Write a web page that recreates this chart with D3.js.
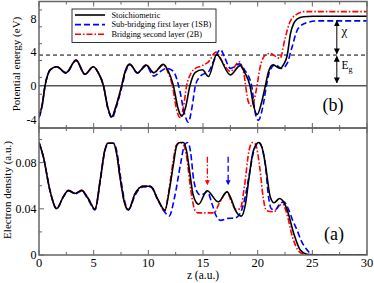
<!DOCTYPE html>
<html>
<head>
<meta charset="utf-8">
<script src="https://cdn.jsdelivr.net/npm/d3@7"></script>
<style>
  body { margin: 0; background: #fff; }
  text { font-family: "Liberation Serif", "DejaVu Serif", serif; }
</style>
</head>
<body>
<svg id="mySvg"></svg>
<script>
const width = 374;
const height = 283;

// series labels
const seriesNames = ["Stoichiometric", "Sub-bridging first layer (1SB)", "Bridging second layer (2B)"];

// potential energy (eV) vs z (a.u.)
const potStoich = [[0,-3.7],[0.3,-2.2],[0.55,0],[0.8,1.3],[1.0,1.86],[1.62,2.26],[2.47,1.55],[3.39,3.05],[4.2,1.39],[4.97,2.26],[5.4,1.6],[5.9,0],[6.3,-2.6],[6.65,-3.7],[7.0,-2.6],[7.56,0],[7.9,1.8],[8.3,2.58],[9.0,1.55],[9.8,2.46],[10.5,1.55],[11.37,2.54],[11.8,1.8],[12.3,0],[12.7,-2.6],[13.05,-3.6],[13.4,-2.6],[13.8,0],[14.3,1.6],[14.95,1.9],[15.5,1.1],[16.25,3.7],[17.5,1.3],[18.4,2.4],[18.8,1.6],[19.3,0],[19.6,-2.2],[19.95,-3.4],[20.35,-2.0],[20.7,0],[21.0,1.7],[21.4,2.5],[22.05,2.05],[22.4,2.6],[22.7,3.6],[23.0,6.2],[23.3,7.4],[23.6,7.9],[24.2,8.2],[25,8.25],[30,8.25]];
const pot1SB = [[0,-3.8],[0.3,-2.3],[0.55,0],[0.8,1.3],[1.0,1.86],[1.62,2.26],[2.47,1.5],[3.39,3.0],[4.2,1.35],[4.97,2.26],[5.4,1.6],[5.9,0],[6.3,-2.7],[6.7,-3.8],[7.05,-2.6],[7.6,0],[7.95,1.8],[8.35,2.5],[9.0,1.5],[9.8,2.4],[10.5,1.15],[11.1,1.7],[11.7,2.07],[12.1,1.9],[12.4,1.5],[12.9,-0.7],[13.25,-3.0],[13.66,-4.3],[14.0,-2.5],[14.3,0],[14.6,0.9],[14.9,1.3],[15.5,1.66],[16.0,3.0],[16.6,4.3],[17.0,3.3],[17.5,2.07],[18.35,2.6],[18.8,1.9],[19.45,0],[19.76,-3.1],[20.05,-4.07],[20.5,-2.3],[20.8,0],[21.13,1.86],[21.6,2.5],[22.2,2.07],[22.7,2.66],[23.1,4.4],[23.7,6.8],[24.5,7.5],[25.5,7.7],[30,7.7]];
const pot2B = [[0,-3.7],[0.3,-2.2],[0.55,0],[0.8,1.3],[1.0,1.86],[1.62,2.26],[2.47,1.55],[3.39,3.05],[4.2,1.39],[4.97,2.26],[5.4,1.6],[5.9,0],[6.3,-2.6],[6.65,-3.75],[7.0,-2.6],[7.56,0],[7.9,1.8],[8.3,2.55],[9.0,1.55],[9.8,2.46],[10.5,1.55],[11.37,2.5],[11.8,1.6],[12.2,0],[12.55,-2.6],[12.9,-3.75],[13.2,-2.6],[13.5,0],[13.9,1.5],[14.3,2.07],[14.75,2.3],[15.5,2.85],[16.2,4.0],[16.8,2.8],[17.5,1.7],[18.3,2.85],[18.7,1.66],[19.15,-1.9],[19.45,-2.4],[19.9,-0.3],[20.2,2.07],[20.7,3.65],[21.1,3.85],[22.05,3.25],[22.5,5.6],[22.96,7.6],[23.6,8.5],[24.3,8.8],[30,8.8]];

// electron density (a.u.) vs z (a.u.)
const denStoich = [[0,0.0974],[0.4,0.085],[1.0,0.056],[1.62,0.0403],[2.2,0.050],[2.7,0.056],[3.3,0.0533],[3.9,0.056],[4.5,0.049],[5.12,0.0397],[5.6,0.065],[6.0,0.09],[6.3,0.0968],[6.8,0.0968],[7.1,0.088],[7.4,0.068],[7.8,0.046],[8.17,0.0389],[8.78,0.053],[9.5,0.0595],[10.2,0.0595],[10.9,0.0475],[11.53,0.0389],[11.9,0.055],[12.3,0.079],[12.6,0.095],[12.9,0.0974],[13.2,0.0974],[13.5,0.09],[13.8,0.0706],[14.1,0.052],[14.6,0.044],[15.37,0.0556],[16.4,0.046],[17.2,0.0547],[17.6,0.048],[17.96,0.0389],[18.5,0.0337],[18.9,0.045],[19.18,0.0648],[19.6,0.09],[20.1,0.0974],[20.4,0.093],[20.7,0.079],[21.16,0.050],[21.5,0.0452],[22.0,0.049],[22.3,0.047],[22.7,0.039],[23.3,0.0187],[23.9,0.0043],[24.5,0.0006],[25.5,0],[30,0]];
const den1SB = [[0,0.0974],[0.4,0.085],[1.0,0.056],[1.62,0.040],[2.2,0.050],[2.7,0.0555],[3.3,0.053],[3.9,0.0555],[4.5,0.048],[5.12,0.039],[5.6,0.064],[6.0,0.089],[6.35,0.0968],[6.85,0.0968],[7.15,0.088],[7.45,0.068],[7.85,0.046],[8.2,0.0395],[8.8,0.052],[9.5,0.059],[10.2,0.059],[10.9,0.047],[11.6,0.036],[11.9,0.0337],[12.4,0.05],[12.95,0.079],[13.3,0.095],[13.6,0.0974],[13.85,0.09],[14.15,0.065],[14.5,0.054],[14.75,0.052],[15.1,0.053],[15.4,0.055],[15.8,0.045],[16.2,0.034],[16.6,0.030],[17.3,0.0317],[17.9,0.032],[18.4,0.036],[18.85,0.05],[19.2,0.068],[19.7,0.092],[20.1,0.0974],[20.4,0.093],[20.7,0.078],[21.0,0.05],[21.25,0.040],[21.6,0.039],[22.0,0.044],[22.4,0.046],[22.8,0.040],[23.2,0.030],[23.6,0.0216],[24.0,0.012],[24.4,0.0058],[25,0.0005],[25.5,0],[30,0]];
const den2B = [[0,0.0974],[0.4,0.085],[1.0,0.056],[1.62,0.0403],[2.2,0.050],[2.7,0.056],[3.3,0.0533],[3.9,0.056],[4.5,0.049],[5.12,0.0397],[5.6,0.065],[6.0,0.09],[6.3,0.0968],[6.8,0.0968],[7.1,0.088],[7.4,0.068],[7.8,0.046],[8.17,0.0389],[8.78,0.053],[9.5,0.0597],[10.2,0.0597],[10.9,0.0475],[11.5,0.038],[11.85,0.054],[12.25,0.08],[12.55,0.095],[12.85,0.0974],[13.2,0.096],[13.5,0.085],[13.9,0.055],[14.3,0.038],[14.6,0.0365],[16.0,0.0365],[16.5,0.045],[17.2,0.0547],[17.6,0.046],[18.0,0.0395],[18.4,0.040],[18.8,0.06],[19.2,0.09],[19.5,0.0974],[19.8,0.096],[20.2,0.075],[20.5,0.05],[20.8,0.0385],[21.5,0.0374],[22.0,0.043],[22.3,0.044],[22.6,0.038],[23.2,0.015],[23.8,0.003],[24.5,0],[30,0]];

// ticks
const xTicks = [0, 5, 10, 15, 20, 25, 30];
const potTicks = [-4, 0, 4, 8];
const denTicks = [0, 0.04, 0.08];

// reference levels
const vacuumGap = 3.65;
const chiArrow = [27.24, 7.7, 3.8];
const egArrow = [27.24, 3.5, 0.35];
const arrow2B = [15.4, 0.085, 0.0605];
const arrow1SB = [17.3, 0.085, 0.0605];

const colors = ["#000000", "#0000ff", "#ff0000"];
const dashes = [null, "6,3", "6,2,1.5,2"];

const svg = d3.select("#mySvg").attr("width", width).attr("height", height);

const x = d3.scaleLinear().domain([0, 30]).range([39, 367]);
const yPot = d3.scaleLinear().domain([-5, 10]).range([128, 1.5]);
const yDen = d3.scaleLinear().domain([0, 0.11]).range([255, 128]);

const fmt = (d) => String(d);

svg.append("defs").append("marker")
  .attr("id", "head")
  .attr("viewBox", "0 0 10 10")
  .attr("refX", 9).attr("refY", 5)
  .attr("markerWidth", 6).attr("markerHeight", 6)
  .attr("markerUnits", "userSpaceOnUse")
  .attr("orient", "auto-start-reverse")
  .append("path").attr("d", "M0,0 L10,5 L0,10 z").attr("fill", "#000");

function clip(id, y) {
  svg.select("defs").append("clipPath").attr("id", id)
    .append("rect")
    .attr("x", x.range()[0]).attr("y", y.range()[1])
    .attr("width", x.range()[1] - x.range()[0])
    .attr("height", y.range()[0] - y.range()[1]);
}
clip("clipTop", yPot);
clip("clipBot", yDen);

function frame(y, yTicks, showX) {
  const g = svg.append("g");
  const y0 = y.range()[0], y1 = y.range()[1];
  // minor and major x ticks on both edges
  d3.range(0, 30.01, 2.5).forEach((t) => {
    const len = t % 5 === 0 ? 5 : 3;
    [[y0, -len], [y1, len]].forEach(([yy, l]) => {
      g.append("line").attr("x1", x(t)).attr("x2", x(t))
        .attr("y1", yy).attr("y2", yy + l)
        .attr("stroke", "#666").attr("stroke-width", 1);
    });
  });
  // y ticks
  const step = yTicks[1] - yTicks[0];
  const minor = d3.range(y.domain()[0], y.domain()[1] + step / 4, step / 2);
  minor.forEach((t) => {
    const major = yTicks.some((m) => Math.abs(m - t) < step / 10);
    g.append("line").attr("x1", x(0)).attr("x2", x(0) + (major ? 5 : 3))
      .attr("y1", y(t)).attr("y2", y(t))
      .attr("stroke", "#666").attr("stroke-width", 1);
  });
  yTicks.forEach((t) => {
    g.append("text").attr("x", 36.5).attr("y", y(t)).attr("dy", "0.35em")
      .attr("text-anchor", "end").attr("font-size", 12).text(fmt(t));
  });
  if (showX) {
    xTicks.forEach((t) => {
      g.append("text").attr("x", x(t)).attr("y", 266.5)
        .attr("text-anchor", "middle").attr("font-size", 12.5).text(fmt(t));
    });
  }
  g.append("rect")
    .attr("x", x(0)).attr("y", y1)
    .attr("width", x(30) - x(0)).attr("height", y0 - y1)
    .attr("fill", "none").attr("stroke", "#666").attr("stroke-width", 1.5);
}

function drawLines(series, y, clipId) {
  const line = d3.line()
    .x((d) => x(d[0]))
    .y((d) => y(d[1]))
    .curve(d3.curveMonotoneX);
  const g = svg.append("g").attr("clip-path", `url(#${clipId})`);
  // draw in reverse so black stays on top like the reference
  [2, 1, 0].forEach((i) => {
    g.append("path")
      .datum(series[i])
      .attr("d", line)
      .attr("fill", "none")
      .attr("stroke", colors[i])
      .attr("stroke-width", 1.6)
      .attr("stroke-dasharray", dashes[i]);
  });
}

// top panel (b): potential energy
const gTop = svg.append("g");
gTop.append("line").attr("x1", x(0)).attr("x2", x(30))
  .attr("y1", yPot(0)).attr("y2", yPot(0))
  .attr("stroke", "#000").attr("stroke-width", 1);
gTop.append("line").attr("x1", x(0)).attr("x2", x(30))
  .attr("y1", yPot(vacuumGap)).attr("y2", yPot(vacuumGap))
  .attr("stroke", "#000").attr("stroke-width", 1).attr("stroke-dasharray", "4,3");

drawLines([potStoich, pot1SB, pot2B], yPot, "clipTop");
frame(yPot, potTicks, false);

// double arrows for chi and Eg
[chiArrow, egArrow].forEach((a) => {
  svg.append("line")
    .attr("x1", x(a[0])).attr("x2", x(a[0]))
    .attr("y1", yPot(a[1])).attr("y2", yPot(a[2]))
    .attr("stroke", "#000").attr("stroke-width", 1)
    .attr("marker-start", "url(#head)").attr("marker-end", "url(#head)");
});

svg.append("text").attr("x", 341.5).attr("y", 35).attr("font-size", 13).text("χ");
const eg = svg.append("text").attr("x", 341.5).attr("y", 68.5).attr("font-size", 11.5);
eg.append("tspan").text("E");
eg.append("tspan").attr("font-size", 8).attr("dy", 3).text("g");

svg.append("text").attr("x", 322.5).attr("y", 110.5).attr("font-size", 18).text("(b)");

// legend
const lg = svg.append("g");
lg.append("rect").attr("x", 72).attr("y", 9).attr("width", 144).attr("height", 33.5)
  .attr("fill", "#fff").attr("stroke", "#000").attr("stroke-width", 0.8);
seriesNames.forEach((name, i) => {
  const yy = 15 + i * 9.6;
  lg.append("line").attr("x1", 75).attr("x2", 105).attr("y1", yy).attr("y2", yy)
    .attr("stroke", colors[i]).attr("stroke-width", 1.6)
    .attr("stroke-dasharray", dashes[i]);
  lg.append("text").attr("x", 111.5).attr("y", yy).attr("dy", "0.33em")
    .attr("font-size", 8.3).text(name);
});

// bottom panel (a): electron density
drawLines([denStoich, den1SB, den2B], yDen, "clipBot");
frame(yDen, denTicks, true);

[[arrow2B, colors[2], dashes[2]], [arrow1SB, colors[1], dashes[1]]].forEach(([a, c, da]) => {
  svg.append("line")
    .attr("x1", x(a[0])).attr("x2", x(a[0]))
    .attr("y1", yDen(a[1])).attr("y2", yDen(a[2]) - 4)
    .attr("stroke", c).attr("stroke-width", 1.3)
    .attr("stroke-dasharray", da);
  svg.append("path")
    .attr("d", `M${x(a[0]) - 2.5},${yDen(a[2]) - 5} L${x(a[0]) + 2.5},${yDen(a[2]) - 5} L${x(a[0])},${yDen(a[2])} z`)
    .attr("fill", c);
});

svg.append("text").attr("x", 324).attr("y", 239.5).attr("font-size", 18).text("(a)");

// axis titles
svg.append("text").attr("x", 203).attr("y", 279).attr("text-anchor", "middle")
  .attr("font-size", 11.5).text("z (a.u.)");
svg.append("text").attr("transform", "translate(20,64) rotate(-90)")
  .attr("text-anchor", "middle").attr("font-size", 11).text("Potential energy (eV)");
svg.append("text").attr("transform", "translate(10.5,190) rotate(-90)")
  .attr("text-anchor", "middle").attr("font-size", 11).text("Electron density (a.u.)");
</script>
</body>
</html>
